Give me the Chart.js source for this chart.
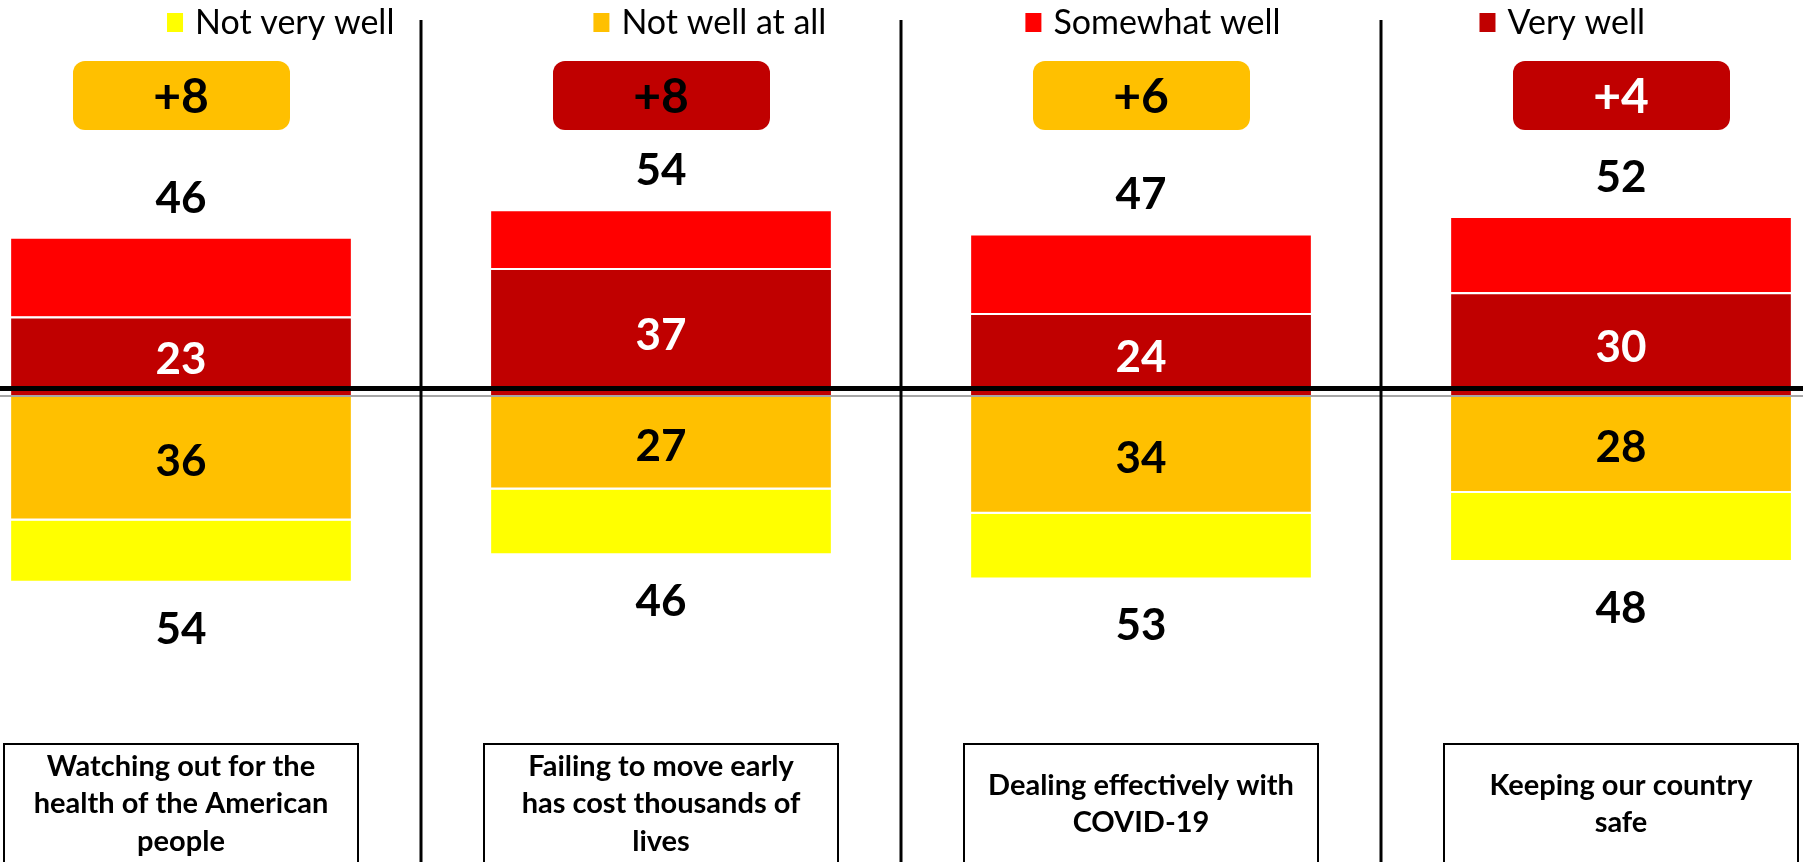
<!DOCTYPE html>
<html>
<head>
<meta charset="utf-8">
<script src="https://cdn.jsdelivr.net/npm/chart.js@4.4.1/dist/chart.umd.min.js"></script>
<style>
  html, body { margin: 0; padding: 0; background: #fff; overflow: hidden; }
  /* the plot is wider than the window, the outer half-categories are cut off */
  #wrap { position: absolute; left: -59px; top: 0; width: 1920px; height: 862px; }
</style>
</head>
<body>
<div id="wrap"><canvas id="chart" width="1920" height="862"></canvas></div>
<script>
const categories = [
  ['Watching out for the', 'health of the American', 'people'],
  ['Failing to move early', 'has cost thousands of', 'lives'],
  ['Dealing effectively with', 'COVID-19'],
  ['Keeping our country', 'safe']
];
const veryWell = [23, 37, 24, 30];
const somewhatWell = [23, 17, 23, 22];
const notWellAtAll = [-36, -27, -34, -28];
const notVeryWell = [-18, -19, -19, -20];
const wellTotals = [46, 54, 47, 52];
const notWellTotals = [54, 46, 53, 48];
const netLabels = ['+8', '+8', '+6', '+4'];
const netColors = ['#FFC000', '#C00000', '#FFC000', '#C00000'];
const netTextColors = ['#000', '#000', '#000', '#fff'];
const legendOrder = ['Not very well', 'Not well at all', 'Somewhat well', 'Very well'];

const FONT = 'Lato, Carlito, sans-serif';

// draw text so that the digits' visual middle sits on cy
function centerText(ctx, text, cx, cy, size, color, weight) {
  ctx.font = (weight || 'bold') + ' ' + size + 'px ' + FONT;
  ctx.fillStyle = color;
  ctx.textAlign = 'center';
  ctx.textBaseline = 'alphabetic';
  ctx.fillText(text, cx, cy + size * 0.36);
}

const overlay = {
  id: 'overlay',
  afterDatasetsDraw(chart) {
    const ctx = chart.ctx;
    const x = chart.scales.x, y = chart.scales.y;
    const zero = y.getPixelForValue(0);
    const W = chart.width, H = chart.height;
    ctx.save();

    // zero line and the heavy black rule just above it
    ctx.fillStyle = '#A6A6A6';
    ctx.fillRect(0, zero - 1, W, 2);
    ctx.fillStyle = '#000';
    ctx.fillRect(0, zero - 10, W, 5);

    // separators between categories
    for (let i = 0; i < categories.length - 1; i++) {
      const sx = (x.getPixelForTick(i) + x.getPixelForTick(i + 1)) / 2;
      ctx.fillRect(sx - 1.5, 20, 3, H - 20);
    }

    // values inside the two segments next to zero
    const vw = chart.getDatasetMeta(0).data;
    const nw = chart.getDatasetMeta(2).data;
    vw.forEach((bar, i) => centerText(ctx, String(veryWell[i]), bar.x, (bar.y + bar.base) / 2 + 2, 44, '#fff'));
    nw.forEach((bar, i) => centerText(ctx, String(-notWellAtAll[i]), bar.x, (bar.y + bar.base) / 2 + 2, 44, '#000'));

    // totals above and below each bar
    categories.forEach((c, i) => {
      const cx = x.getPixelForTick(i);
      centerText(ctx, String(wellTotals[i]), cx, y.getPixelForValue(wellTotals[i]) - 40, 44, '#000');
      centerText(ctx, String(notWellTotals[i]), cx, y.getPixelForValue(-notWellTotals[i]) + 45, 44, '#000');

      // net difference boxes
      ctx.fillStyle = netColors[i];
      ctx.beginPath();
      ctx.roundRect(cx - 108, 61, 217, 69, 12);
      ctx.fill();
      centerText(ctx, netLabels[i], cx, 96, 48, netTextColors[i]);

      // category label boxes
      ctx.strokeStyle = '#000';
      ctx.lineWidth = 2;
      ctx.strokeRect(cx - 177, 744, 354, 130);
      const lh = 37.5;
      const top = 803 - (c.length - 1) * lh / 2;
      c.forEach((line, j) => centerText(ctx, line, cx, top + j * lh, 29, '#000'));
    });

    // legend, centred on the visible window
    const ds = chart.data.datasets;
    ctx.font = '34px ' + FONT;
    const items = legendOrder.map(l => {
      const d = ds.find(s => s.label === l);
      return { label: l, color: d.backgroundColor, w: 16 + 12 + ctx.measureText(l).width };
    });
    const gap = 199;
    const total = items.reduce((s, it) => s + it.w, 0) + gap * (items.length - 1);
    let lx = 59 + 906 - total / 2;
    items.forEach(it => {
      ctx.fillStyle = it.color;
      ctx.fillRect(lx, 13, 16, 19);
      ctx.fillStyle = '#000';
      ctx.textAlign = 'left';
      ctx.textBaseline = 'alphabetic';
      ctx.fillText(it.label, lx + 28, 22 + 34 * 0.36);
      lx += it.w + gap;
    });

    ctx.restore();
  }
};

new Chart(document.getElementById('chart'), {
  type: 'bar',
  data: {
    labels: categories,
    datasets: [
      { label: 'Very well', data: veryWell, backgroundColor: '#C00000' },
      { label: 'Somewhat well', data: somewhatWell, backgroundColor: '#FF0000' },
      { label: 'Not well at all', data: notWellAtAll, backgroundColor: '#FFC000' },
      { label: 'Not very well', data: notVeryWell, backgroundColor: '#FFFF00' }
    ]
  },
  options: {
    responsive: false,
    devicePixelRatio: 1,
    animation: false,
    layout: { padding: { top: 50, bottom: 120, left: 0, right: 0 } },
    datasets: {
      bar: {
        borderColor: '#fff',
        borderWidth: { top: 2, bottom: 2, left: 0, right: 0 },
        categoryPercentage: 1,
        barPercentage: 0.708
      }
    },
    scales: {
      x: { stacked: true, display: false },
      y: { stacked: true, display: false, min: -100, max: 100 }
    },
    plugins: { legend: { display: false }, tooltip: { enabled: false } }
  },
  plugins: [overlay]
});
</script>
</body>
</html>
